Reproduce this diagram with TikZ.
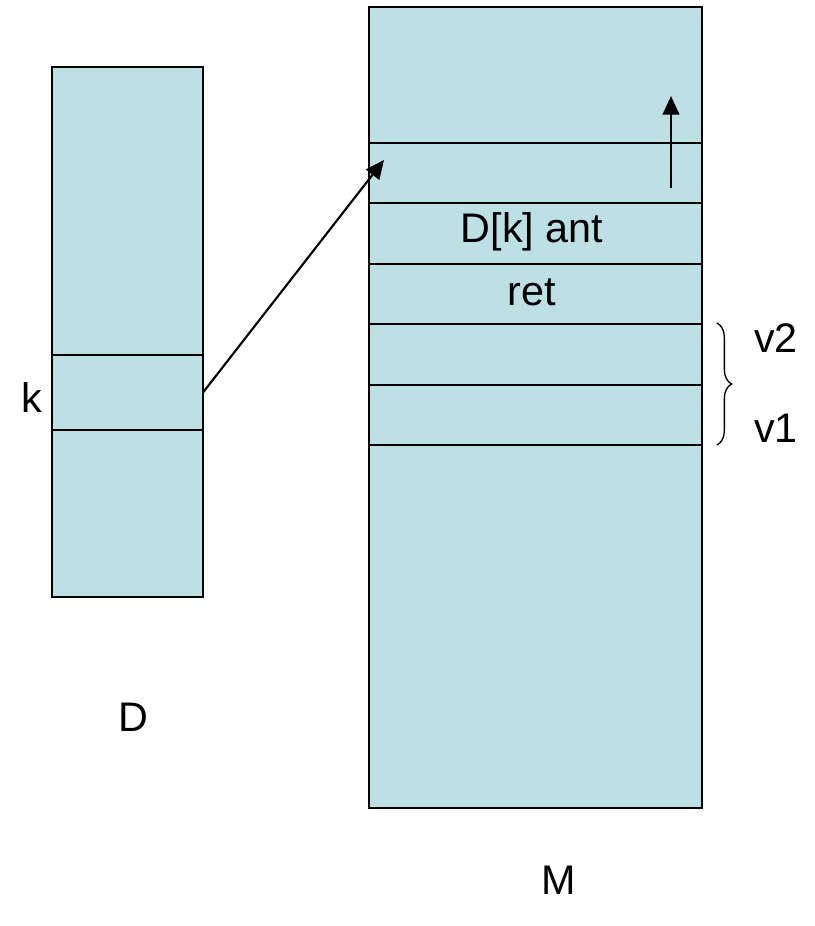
\documentclass[tikz,border=0pt]{standalone}
\usepackage{fontspec}
\setmainfont{Liberation Sans}
\usetikzlibrary{arrows.meta,decorations.pathreplacing}
\definecolor{cellblue}{RGB}{188,224,227}
\begin{document}
\begin{tikzpicture}[x=0.75pt,y=-0.75pt,
  cell/.style={draw, fill=cellblue, line width=1.5pt, inner sep=0pt, outer sep=0pt},
  lbl/.style={font=\fontsize{31}{36}\selectfont, inner sep=0pt},
  arr/.style={line width=1.6pt, -{Triangle[length=14pt,width=12.5pt]}}]
\useasboundingbox (0,0) rectangle (815,926);
% array D
\node[cell, minimum width=113.25pt, minimum height=216pt] (dtop) at (127.5,211) {};
\node[cell, minimum width=113.25pt, minimum height=56.25pt] (dk) at (127.5,392.5) {};
\node[cell, minimum width=113.25pt, minimum height=125.25pt] (dbot) at (127.5,513.5) {};
\node[lbl] (klbl) at (32,398) {k};
\node[lbl] (dlbl) at (133,717) {D};
% memory M
\node[cell, minimum width=249.75pt, minimum height=102pt] (m1) at (535.5,75) {};
\node[cell, minimum width=249.75pt, minimum height=45pt] (m2) at (535.5,173) {};
\node[cell, minimum width=249.75pt, minimum height=45.75pt] (m3) at (535.5,233.5) {};
\node[cell, minimum width=249.75pt, minimum height=45pt] (m4) at (535.5,294) {};
\node[cell, minimum width=249.75pt, minimum height=45.75pt] (m5) at (535.5,354.5) {};
\node[cell, minimum width=249.75pt, minimum height=45pt] (m6) at (535.5,415) {};
\node[cell, minimum width=249.75pt, minimum height=272.25pt] (m7) at (535.5,626.5) {};
\node[lbl] (antlbl) at (532,232) {D[k] ant};
\node[lbl] (retlbl) at (532,292) {ret};
\node[lbl] (mlbl) at (559,880) {M};
\node[lbl] (v2) at (776,338) {v2};
\node[lbl] (v1) at (776,428) {v1};
\coordinate (tip) at (384,160);
\coordinate (up0) at (671,188);
\coordinate (up1) at (671,96);
\coordinate (br0) at (717,323);
\coordinate (br1) at (717,445);
% link and growth
\draw[arr] (dk.east) -- (tip);
\draw[arr] (up0) -- (up1);
\draw[line width=1pt, decorate, decoration={brace, amplitude=11pt}] (br0) -- (br1);
\end{tikzpicture}
\end{document}
